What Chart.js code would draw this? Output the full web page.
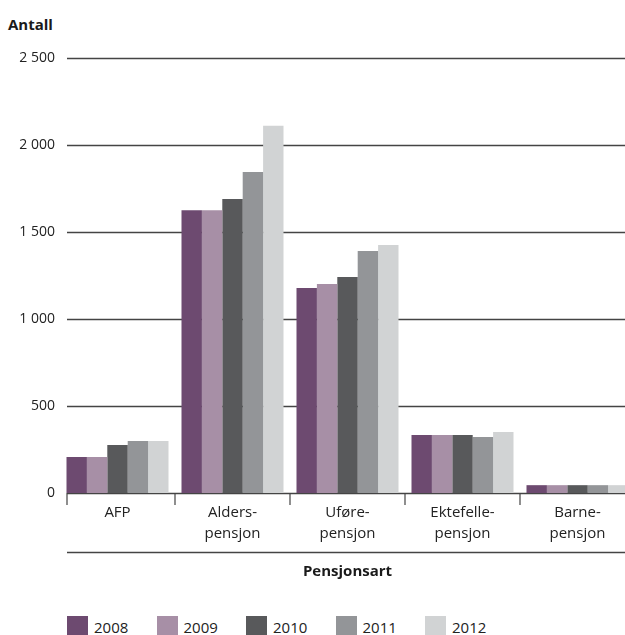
<!DOCTYPE html>
<html>
<head>
<meta charset="utf-8">
<script src="https://cdn.jsdelivr.net/npm/chart.js@4.4.1/dist/chart.umd.min.js"></script>
<style>
  html, body { margin: 0; padding: 0; background: #fff; overflow: hidden; width: 625px; height: 635px; }
  #wrap { position: absolute; left: 0; top: 0; width: 640px; height: 600px; }
  #ytitle { position: absolute; left: 8px; top: 14px; font: bold 15px "Open Sans", sans-serif; color: #1a1a1a; }
  #legend { position: absolute; left: 0; top: 616px; width: 625px; height: 24px; }
  .lg { position: absolute; top: 0; display: flex; align-items: center; font: 15px "Open Sans", sans-serif; color: #222; }
  .lg i { display: inline-block; width: 21px; height: 21px; margin-right: 6px; }
</style>
</head>
<body>
<div id="ytitle">Antall</div>
<div id="wrap"><canvas id="c" width="640" height="600"></canvas></div>
<div id="legend"></div>
<script>
'use strict';

/* ── Data ───────────────────────────────────────────────────────────── */
const categories = [['AFP'], ['Alders-', 'pensjon'], ['Uføre-', 'pensjon'], ['Ektefelle-', 'pensjon'], ['Barne-', 'pensjon']];
const years = ['2008', '2009', '2010', '2011', '2012'];
const v2008 = [207, 1625, 1178, 333, 45];
const v2009 = [207, 1625, 1201, 333, 45];
const v2010 = [276, 1690, 1241, 333, 45];
const v2011 = [299, 1845, 1391, 322, 45];
const v2012 = [299, 2110, 1425, 351, 45];
const yTicks = [0, 500, 1000, 1500, 2000, 2500];
const colors = ['#6d4a70', '#a78fa6', '#58595b', '#939598', '#d1d3d4'];

const series = [v2008, v2009, v2010, v2011, v2012];
const FONT = '"Open Sans", sans-serif';
const LINE = '#444';

function fmt(n) { return String(n).replace(/\B(?=(\d{3})+(?!\d))/g, ' '); }

/* ── Grid, ticks and rule below labels ──────────────────────────────── */
const framePlugin = {
  id: 'frame',
  beforeDatasetsDraw(chart) {
    const { ctx, chartArea: a, scales: { x, y } } = chart;
    const x0 = a.left + 7;
    ctx.save();
    ctx.strokeStyle = LINE;
    ctx.lineWidth = 1.5;
    yTicks.forEach(t => {
      const py = Math.round(y.getPixelForValue(t)) + 0.5;
      ctx.beginPath(); ctx.moveTo(x0, py); ctx.lineTo(chart.width, py); ctx.stroke();
    });
    // category separators
    ctx.lineWidth = 1.2;
    const marks = [x0];
    for (let i = 1; i < categories.length; i++) marks.push((x.getPixelForValue(i - 1) + x.getPixelForValue(i)) / 2);
    marks.forEach(m => {
      ctx.beginPath(); ctx.moveTo(m, a.bottom); ctx.lineTo(m, a.bottom + 12); ctx.stroke();
    });
    // rule above axis title
    ctx.lineWidth = 1.5;
    const ry = a.bottom + 59.5;
    ctx.beginPath(); ctx.moveTo(x0, ry); ctx.lineTo(chart.width, ry); ctx.stroke();
    ctx.restore();
  }
};

new Chart(document.getElementById('c'), {
  type: 'bar',
  data: {
    labels: categories,
    datasets: years.map((yr, i) => ({
      label: yr,
      data: series[i],
      backgroundColor: colors[i],
      borderWidth: 0,
      barPercentage: 1,
      categoryPercentage: 0.887
    }))
  },
  options: {
    responsive: false,
    animation: false,
    layout: { padding: { top: 58, left: 0, right: 5, bottom: 19 } },
    plugins: { legend: { display: false }, tooltip: { enabled: false } },
    scales: {
      x: {
        grid: { display: false, drawTicks: false },
        border: { display: false },
        ticks: { color: '#222', padding: 9, font: { family: FONT, size: 15, lineHeight: 1.4 }, maxRotation: 0, autoSkip: false },
        title: { display: true, text: 'Pensjonsart', color: '#1a1a1a', padding: 0, font: { family: FONT, size: 15, weight: 'bold', lineHeight: 1.2 } },
        afterFit(s) { s.height = 88; }
      },
      y: {
        min: 0, max: 2500,
        afterBuildTicks(s) { s.ticks = yTicks.map(v => ({ value: v })); },
        grid: { display: false, drawTicks: false },
        border: { display: false },
        ticks: { color: '#222', padding: 5, font: { family: FONT, size: 14 }, callback: v => fmt(v) },
        afterFit(s) { s.width = 60; }
      }
    }
  },
  plugins: [framePlugin]
});

/* ── Legend ─────────────────────────────────────────────────────────── */
$legend();
function $legend() {
  const el = document.getElementById('legend');
  el.innerHTML = years.map((yr, i) =>
    `<div class="lg" style="left:${67 + i * 89.5}px"><i style="background:${colors[i]}"></i>${yr}</div>`).join('');
}
</script>
</body>
</html>
